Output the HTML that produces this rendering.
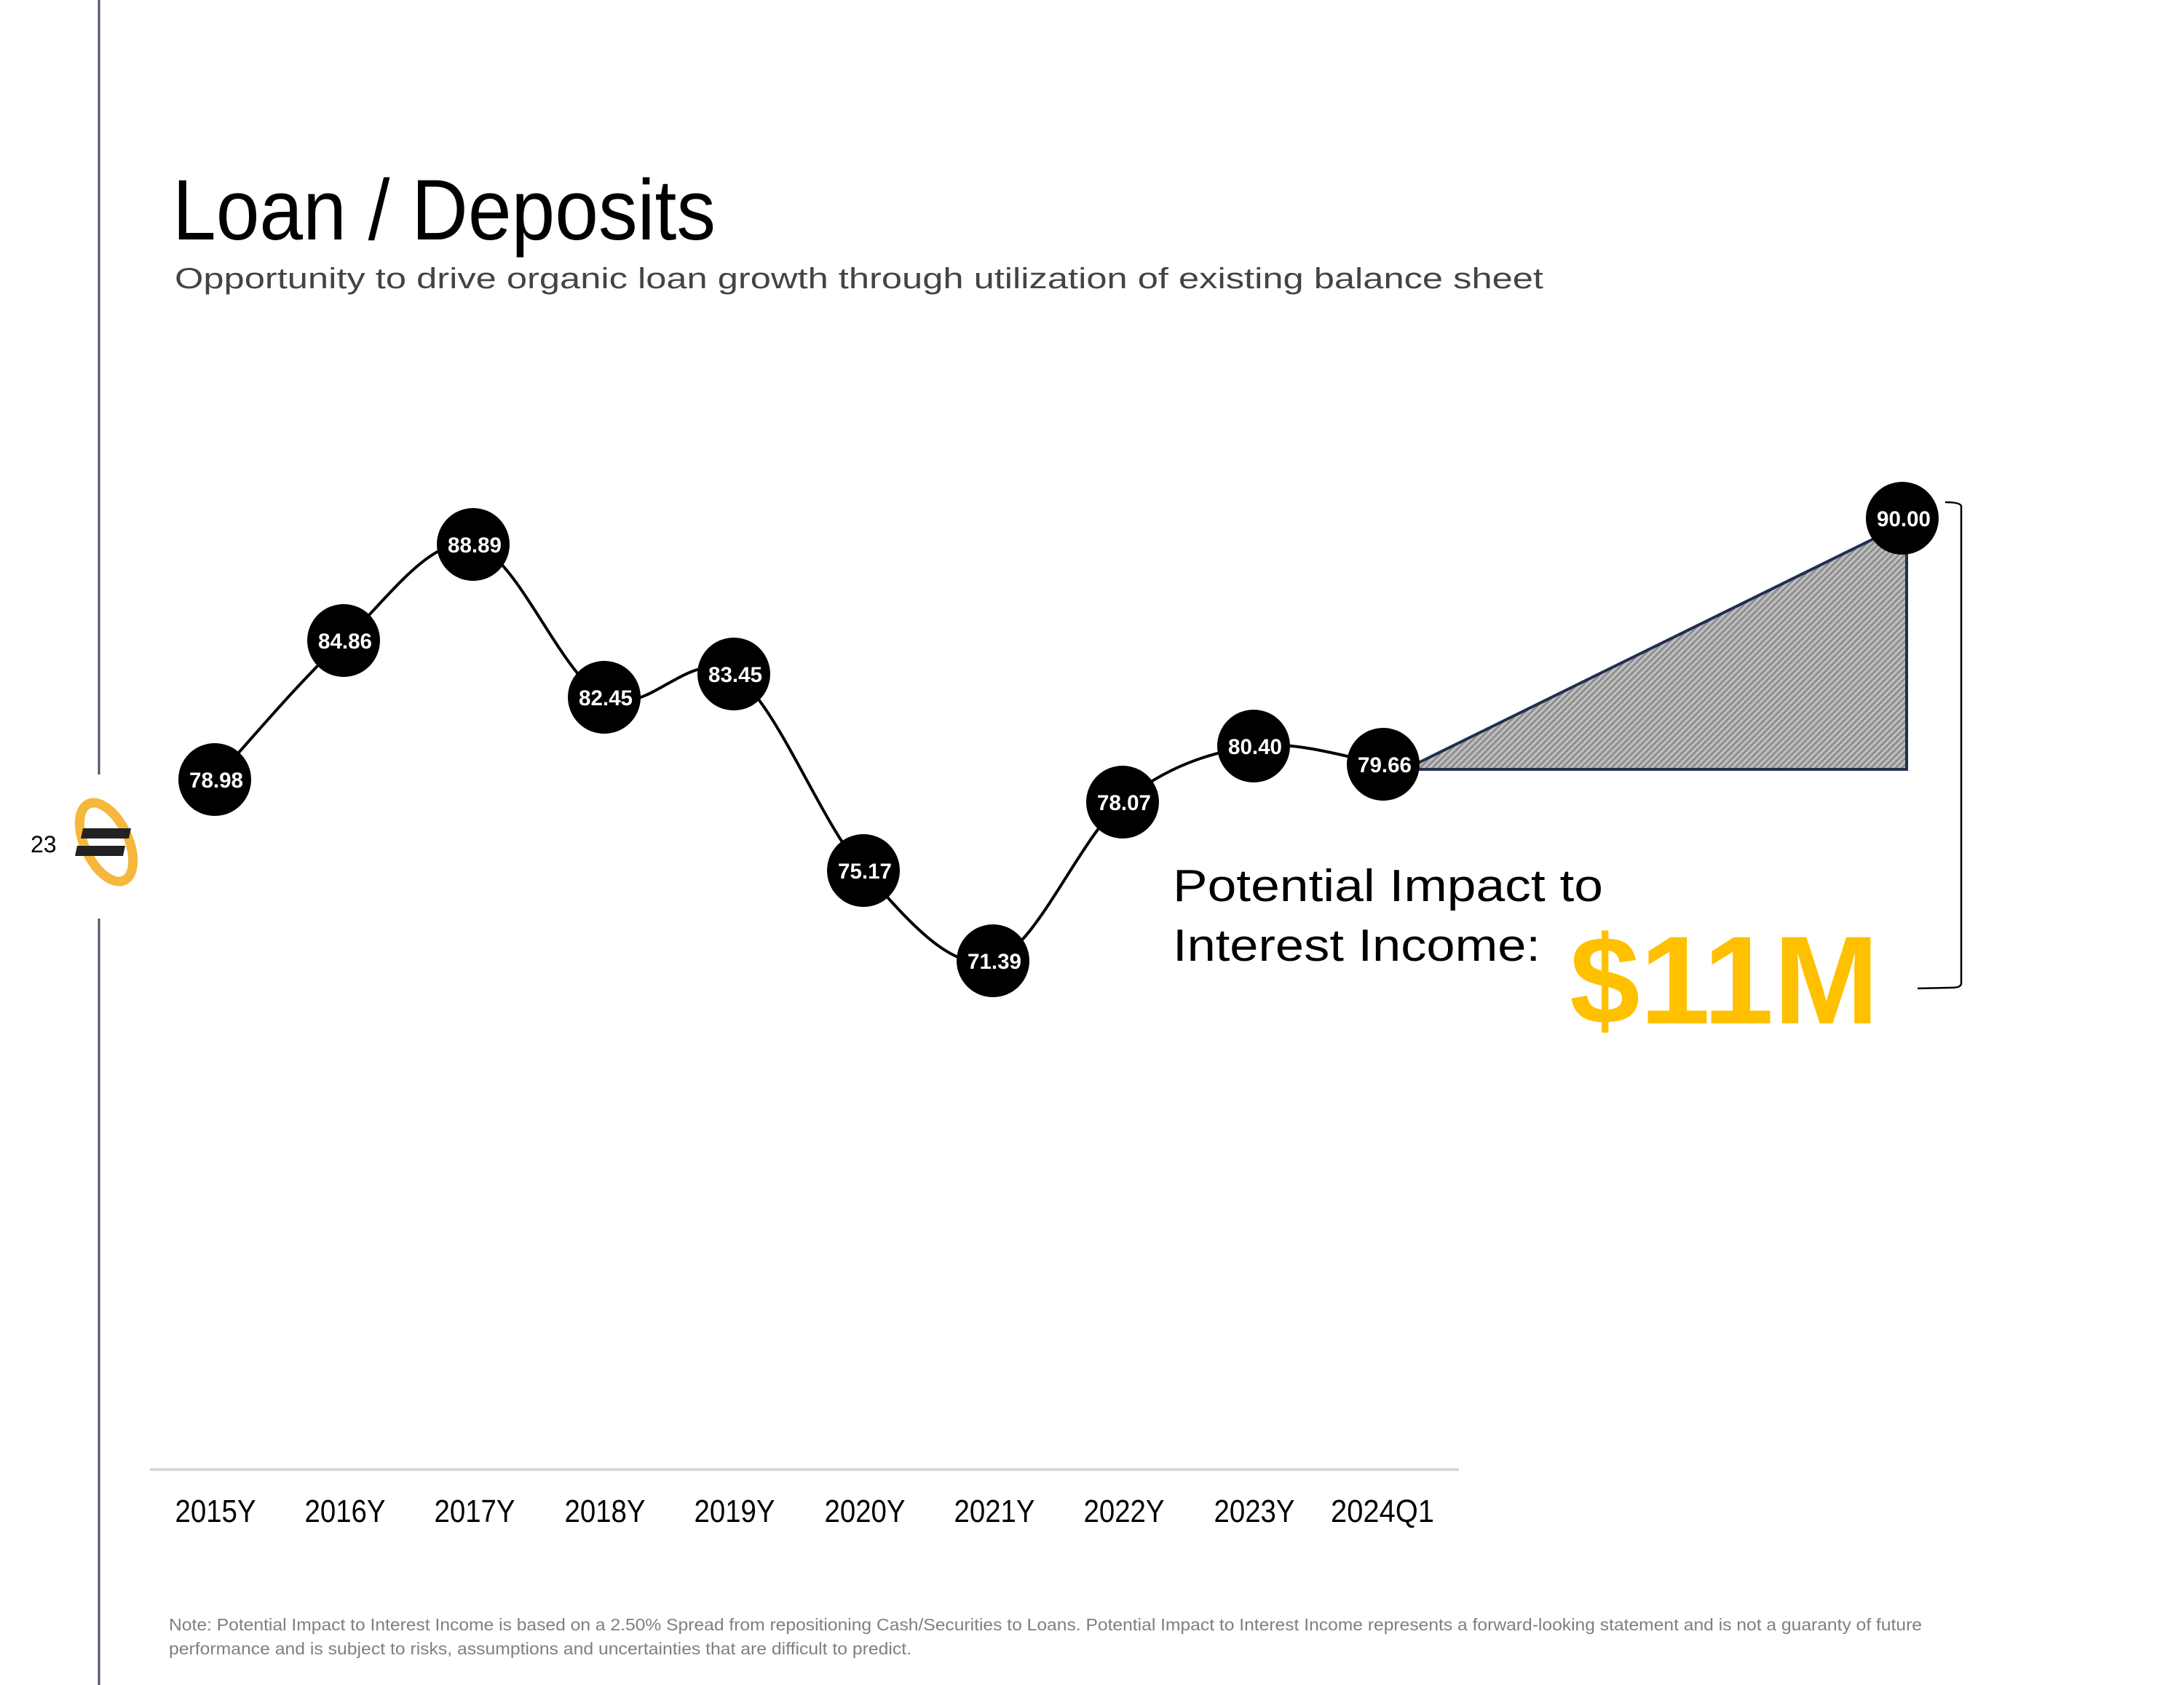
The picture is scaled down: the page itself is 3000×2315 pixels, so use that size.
<!DOCTYPE html>
<html><head><meta charset="utf-8"><style>
html,body{margin:0;padding:0;background:#fff;}
svg{display:block;}
</style></head><body>
<svg width="3000" height="2315" viewBox="0 0 3000 2315" xmlns="http://www.w3.org/2000/svg" font-family="'Liberation Sans', sans-serif">
<defs>
<pattern id="hatch" width="6" height="6" patternUnits="userSpaceOnUse" patternTransform="rotate(45)">
<rect width="6" height="6" fill="#bdbdbd"/>
<rect width="2.5" height="6" fill="#8a8a8a"/>
</pattern>
</defs>
<rect width="3000" height="2315" fill="#fff"/>
<!-- left rule -->
<line x1="136" y1="0" x2="136" y2="1064" stroke="#4a5068" stroke-width="3"/>
<line x1="136" y1="1262" x2="136" y2="2315" stroke="#4a5068" stroke-width="3"/>
<text x="42" y="1171" font-size="32" fill="#000">23</text>
<!-- logo -->
<g transform="translate(146,1157) rotate(-25)">
<ellipse cx="0" cy="0" rx="30" ry="58" fill="none" stroke="#F5B83D" stroke-width="13"/>
</g>
<polygon points="114,1138 180,1138 177,1152 111,1152" fill="#222"/>
<polygon points="106,1162 172,1162 169,1176 103,1176" fill="#222"/>

<!-- title -->
<text x="237" y="329" font-size="118" fill="#000" textLength="746" lengthAdjust="spacingAndGlyphs">Loan / Deposits</text>
<text x="240" y="396" font-size="40" fill="#444" textLength="1880" lengthAdjust="spacingAndGlyphs">Opportunity to drive organic loan growth through utilization of existing balance sheet</text>

<!-- triangle -->
<polygon points="1930,1057 2619,718 2619,1057" fill="url(#hatch)" stroke="#1f2f4f" stroke-width="4"/>
<!-- bracket -->
<path d="M2672,690 Q2694,690 2694,696 L2694,1351 Q2694,1357 2680,1357 L2634,1358" fill="none" stroke="#000" stroke-width="2.5"/>

<!-- curve -->
<path d="M295,1071 C324.5,1039.2 412.8,933.8 472,880 C531.2,826.2 590.3,735 650,748 C709.7,761 770.3,928.3 830,958 C889.7,987.7 948.7,886.3 1008,926 C1067.3,965.7 1126.7,1130.3 1186,1196 C1245.3,1261.7 1304.7,1335.7 1364,1320 C1423.3,1304.3 1482.3,1151.2 1542,1102 C1601.7,1052.8 1662.3,1033.7 1722,1025 C1781.7,1016.3 1870.3,1045.8 1900,1050" fill="none" stroke="#000" stroke-width="4"/>

<g fill="#000">
<circle cx="295" cy="1071" r="50"/>
<circle cx="472" cy="880" r="50"/>
<circle cx="650" cy="748" r="50"/>
<circle cx="830" cy="958" r="50"/>
<circle cx="1008" cy="926" r="50"/>
<circle cx="1186" cy="1196" r="50"/>
<circle cx="1364" cy="1320" r="50"/>
<circle cx="1542" cy="1102" r="50"/>
<circle cx="1722" cy="1025" r="50"/>
<circle cx="1900" cy="1050" r="50"/>
<circle cx="2613" cy="712" r="50"/>
</g>
<g fill="#fff" font-size="30" font-weight="bold" text-anchor="middle">
<text x="297" y="1082" textLength="74" lengthAdjust="spacingAndGlyphs">78.98</text>
<text x="474" y="891" textLength="74" lengthAdjust="spacingAndGlyphs">84.86</text>
<text x="652" y="759" textLength="74" lengthAdjust="spacingAndGlyphs">88.89</text>
<text x="832" y="969" textLength="74" lengthAdjust="spacingAndGlyphs">82.45</text>
<text x="1010" y="937" textLength="74" lengthAdjust="spacingAndGlyphs">83.45</text>
<text x="1188" y="1207" textLength="74" lengthAdjust="spacingAndGlyphs">75.17</text>
<text x="1366" y="1331" textLength="74" lengthAdjust="spacingAndGlyphs">71.39</text>
<text x="1544" y="1113" textLength="74" lengthAdjust="spacingAndGlyphs">78.07</text>
<text x="1724" y="1036" textLength="74" lengthAdjust="spacingAndGlyphs">80.40</text>
<text x="1902" y="1061" textLength="74" lengthAdjust="spacingAndGlyphs">79.66</text>
<text x="2615" y="723" textLength="74" lengthAdjust="spacingAndGlyphs">90.00</text>
</g>

<text x="1611" y="1238" font-size="62" fill="#000" textLength="591" lengthAdjust="spacingAndGlyphs">Potential Impact to</text>
<text x="1611" y="1320" font-size="62" fill="#000" textLength="505" lengthAdjust="spacingAndGlyphs">Interest Income:</text>
<text x="2156" y="1406" font-size="172" font-weight="bold" fill="#FFC000" textLength="425" lengthAdjust="spacingAndGlyphs">$11M</text>

<!-- axis -->
<line x1="206" y1="2019" x2="2004" y2="2019" stroke="#d9d9d9" stroke-width="4"/>
<g font-size="44" fill="#000" text-anchor="middle">
<text x="296" y="2091" textLength="111" lengthAdjust="spacingAndGlyphs">2015Y</text>
<text x="474" y="2091" textLength="111" lengthAdjust="spacingAndGlyphs">2016Y</text>
<text x="652" y="2091" textLength="111" lengthAdjust="spacingAndGlyphs">2017Y</text>
<text x="831" y="2091" textLength="111" lengthAdjust="spacingAndGlyphs">2018Y</text>
<text x="1009" y="2091" textLength="111" lengthAdjust="spacingAndGlyphs">2019Y</text>
<text x="1188" y="2091" textLength="111" lengthAdjust="spacingAndGlyphs">2020Y</text>
<text x="1366" y="2091" textLength="111" lengthAdjust="spacingAndGlyphs">2021Y</text>
<text x="1544" y="2091" textLength="111" lengthAdjust="spacingAndGlyphs">2022Y</text>
<text x="1723" y="2091" textLength="111" lengthAdjust="spacingAndGlyphs">2023Y</text>
<text x="1899" y="2091" textLength="142" lengthAdjust="spacingAndGlyphs">2024Q1</text>
</g>

<g font-size="23" fill="#7f7f7f">
<text x="232" y="2240" textLength="2408" lengthAdjust="spacingAndGlyphs">Note:  Potential Impact to Interest Income is based on a 2.50% Spread from repositioning Cash/Securities to Loans. Potential Impact to Interest Income represents a forward-looking statement and is not a guaranty of future</text>
<text x="232" y="2273" textLength="1020" lengthAdjust="spacingAndGlyphs">performance and is subject to risks, assumptions and uncertainties that are difficult to predict.</text>
</g>
</svg>
</body></html>
